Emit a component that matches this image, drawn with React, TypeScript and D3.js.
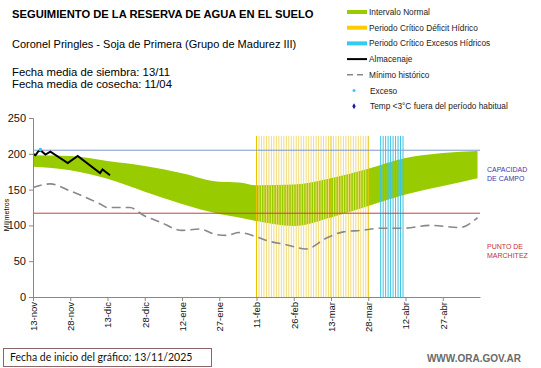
import React, { useEffect, useRef } from 'react';
import * as d3 from 'd3';

// days counted from the chart start date (13/11/2025)
const startDate = new Date(2025, 10, 13);
const totalDays = 180;

const tickDays = [0, 15, 30, 45, 60, 75, 90, 105, 120, 135, 150, 165];
const tickLabels = ['13-nov', '28-nov', '13-dic', '28-dic', '12-ene', '27-ene', '11-feb', '26-feb', '13-mar', '28-mar', '12-abr', '27-abr'];

const bandDays = [0, 15, 30, 45, 60, 75, 83, 90, 105, 120, 135, 150, 165, 179];
const bandUpper = [198, 197, 190, 183, 173, 161, 160, 156, 157, 166, 179, 194, 201, 204];
const bandLower = [182, 177, 165, 147, 130, 116, 111, 106, 99, 111, 127, 143, 155, 166];

const minDays = [0, 7, 15, 20, 27, 30, 39, 45, 51, 60, 67, 74, 78, 83, 90, 95, 102, 110, 118, 125, 132, 140, 149, 160, 172, 179];
const minValues = [153, 158, 148, 141, 130, 125, 125, 113, 105, 93, 95, 87, 86, 90, 84, 78, 73, 67, 82, 91, 93, 96, 96, 100, 97, 111];

const storageDays = [0, 1, 2, 3, 5, 7, 14, 18, 27, 28, 31];
const storageValues = [200, 198, 203, 205, 199, 203, 187, 197, 173, 178, 170];

const excesoDays = [3];
const excesoValues = [206];

const deficitPeriod = [90, 135];  // 11-feb .. 28-mar
const excessPeriod = [140, 149];  // 2-abr .. 11-abr
const periodTop = 225;

const capacidadCampo = 205;
const puntoMarchitez = 117;

const yTicks = [0, 50, 100, 150, 200, 250];

const legendItems = [
  { label: 'Intervalo Normal', kind: 'rect', color: '#99cc00' },
  { label: 'Periodo Crítico Déficit Hídrico', kind: 'rect', color: '#ffcc00' },
  { label: 'Periodo Crítico Excesos Hídricos', kind: 'rect', color: '#33ccee' },
  { label: 'Almacenaje', kind: 'line', color: '#000' },
  { label: 'Mínimo histórico', kind: 'dash', color: '#888' },
  { label: 'Exceso', kind: 'dot', color: '#33ccee' },
  { label: 'Temp <3°C fuera del período habitual', kind: 'diamond', color: '#1a1aa0' },
];

const App: React.FC = () => {
  const ref = useRef<SVGSVGElement>(null);

  useEffect(() => {
    const width = 541, height = 368;
    const svg = d3.select(ref.current)
      .attr('width', width)
      .attr('height', height)
      .style('font-family', 'Arial, "Liberation Sans", sans-serif');
    svg.selectAll('*').remove();

    const day = (n: number) => d3.timeDay.offset(startDate, n);

    const x = d3.scaleTime()
      .domain([startDate, day(totalDays)])
      .range([33, 480]);
    const y = d3.scaleLinear()
      .domain([0, 250])
      .range([297, 118]);

    // header texts
    svg.append('text').attr('x', 12).attr('y', 18)
      .style('font-size', '11.2px').style('font-weight', 'bold')
      .text('SEGUIMIENTO DE LA RESERVA DE AGUA  EN EL SUELO');
    svg.append('text').attr('x', 12).attr('y', 48)
      .style('font-size', '11px')
      .text('Coronel Pringles - Soja de Primera (Grupo de Madurez III)');
    svg.append('text').attr('x', 12).attr('y', 76)
      .style('font-size', '11.3px')
      .text('Fecha media de siembra: 13/11');
    svg.append('text').attr('x', 12).attr('y', 87.5)
      .style('font-size', '11.3px')
      .text('Fecha media de cosecha: 11/04');

    // legend
    const legend = svg.append('g');
    legendItems.forEach((d, i) => {
      const ly = 12 + i * 15.7;
      if (d.kind === 'rect') {
        legend.append('rect').attr('x', 347).attr('y', ly - 2).attr('width', 20).attr('height', 4).attr('fill', d.color);
      } else if (d.kind === 'line') {
        legend.append('line').attr('x1', 347).attr('x2', 367).attr('y1', ly).attr('y2', ly)
          .attr('stroke', d.color).attr('stroke-width', 2);
      } else if (d.kind === 'dash') {
        legend.append('line').attr('x1', 347).attr('x2', 367).attr('y1', ly).attr('y2', ly)
          .attr('stroke', d.color).attr('stroke-width', 1.5).attr('stroke-dasharray', '6,4');
      } else if (d.kind === 'dot') {
        legend.append('circle').attr('cx', 354).attr('cy', ly).attr('r', 1.5).attr('fill', d.color);
      } else {
        legend.append('path').attr('d', d3.symbol(d3.symbolDiamond, 10)())
          .attr('transform', `translate(354,${ly})`).attr('fill', d.color);
      }
      legend.append('text').attr('x', d.kind === 'dot' || d.kind === 'diamond' ? 370 : 369).attr('y', ly + 3)
        .style('font-size', '8.3px').attr('fill', '#222')
        .text(d.label);
    });

    const plot = svg.append('g');

    // normal interval band
    const area = d3.area<number>()
      .x((d) => x(day(d)))
      .y0((_, i) => y(bandLower[i]))
      .y1((_, i) => y(bandUpper[i]))
      .curve(d3.curveMonotoneX);
    plot.append('path').datum(bandDays).attr('d', area).attr('fill', '#99cc00');

    // critical periods, one line per day
    d3.range(deficitPeriod[0], deficitPeriod[1] + 1).forEach((d) => {
      const strong = d === deficitPeriod[0] || d === deficitPeriod[1] || d === 120;
      plot.append('line')
        .attr('x1', x(day(d))).attr('x2', x(day(d)))
        .attr('y1', y(0)).attr('y2', y(periodTop))
        .attr('stroke', strong ? '#e8c400' : '#f3dc78')
        .attr('stroke-width', 1);
    });
    d3.range(excessPeriod[0], excessPeriod[1] + 1).forEach((d) => {
      plot.append('line')
        .attr('x1', x(day(d))).attr('x2', x(day(d)))
        .attr('y1', y(0)).attr('y2', y(periodTop))
        .attr('stroke', '#3cc4e4')
        .attr('stroke-width', 1);
    });

    // reference lines
    plot.append('line').attr('x1', x(day(0))).attr('x2', x(day(totalDays)))
      .attr('y1', y(capacidadCampo)).attr('y2', y(capacidadCampo))
      .attr('stroke', '#7f97c8').attr('stroke-width', 1);
    plot.append('line').attr('x1', x(day(0))).attr('x2', x(day(totalDays)))
      .attr('y1', y(puntoMarchitez)).attr('y2', y(puntoMarchitez))
      .attr('stroke', '#c84040').attr('stroke-width', 1);

    // historical minimum
    const minLine = d3.line<number>()
      .x((d) => x(day(d)))
      .y((_, i) => y(minValues[i]))
      .curve(d3.curveMonotoneX);
    plot.append('path').datum(minDays).attr('d', minLine)
      .attr('fill', 'none').attr('stroke', '#888').attr('stroke-width', 1.6)
      .attr('stroke-dasharray', '9,5');

    // storage
    const storageLine = d3.line<number>()
      .x((d) => x(day(d)))
      .y((_, i) => y(storageValues[i]));
    plot.append('path').datum(storageDays).attr('d', storageLine)
      .attr('fill', 'none').attr('stroke', '#000').attr('stroke-width', 2);

    excesoDays.forEach((d, i) => {
      plot.append('circle').attr('cx', x(day(d))).attr('cy', y(excesoValues[i]))
        .attr('r', 1.8).attr('fill', '#33ccee');
    });

    // axes
    const yAxis = d3.axisLeft(y).tickValues(yTicks).tickSize(4).tickPadding(3);
    const gy = svg.append('g').attr('transform', `translate(${x(day(0))},0)`).call(yAxis);
    gy.select('.domain').attr('stroke', '#888');
    gy.selectAll('.tick line').attr('stroke', '#888');
    gy.selectAll('.tick text').style('font-size', '11px').style('font-family', 'Arial, "Liberation Sans", sans-serif').attr('fill', '#111');

    const xAxis = d3.axisBottom(x)
      .tickValues(tickDays.map(day))
      .tickFormat((_, i) => tickLabels[i])
      .tickSize(4).tickSizeOuter(0);
    const gx = svg.append('g').attr('transform', `translate(0,${y(0)})`).call(xAxis);
    gx.select('.domain').attr('stroke', '#888');
    gx.selectAll('.tick line').attr('stroke', '#888');
    gx.selectAll('.tick text')
      .style('font-size', '9.5px').style('font-family', 'Arial, "Liberation Sans", sans-serif').attr('fill', '#111')
      .attr('text-anchor', 'end')
      .attr('transform', 'rotate(-90)')
      .attr('x', -5).attr('y', 0).attr('dy', '0.35em');

    svg.append('text')
      .attr('transform', 'translate(9,215) rotate(-90)')
      .attr('text-anchor', 'middle')
      .style('font-size', '7px')
      .text('Milímetros');

    // side labels
    const blue = svg.append('text').style('font-size', '7px').attr('fill', '#3a3aa8');
    blue.append('tspan').attr('x', 487).attr('y', 172).text('CAPACIDAD');
    blue.append('tspan').attr('x', 487).attr('y', 181).text('DE  CAMPO');
    const red = svg.append('text').style('font-size', '7px').attr('fill', '#c83030');
    red.append('tspan').attr('x', 487).attr('y', 249).text('PUNTO   DE');
    red.append('tspan').attr('x', 487).attr('y', 258).text('MARCHITEZ');

    // footer
    svg.append('rect').attr('x', 3.5).attr('y', 348.5).attr('width', 208).attr('height', 18)
      .attr('fill', 'white').attr('stroke', '#8a6666').attr('stroke-width', 1);
    svg.append('text').attr('x', 10).attr('y', 361)
      .style('font-size', '10.5px').style('font-family', 'Lato, sans-serif').attr('fill', '#111')
      .text('Fecha de inicio del gráfico:   13/11/2025');
    svg.append('text').attr('x', 521).attr('y', 362).attr('text-anchor', 'end')
      .style('font-size', '10px').style('font-weight', 'bold').attr('fill', '#6a6a6a')
      .text('WWW.ORA.GOV.AR');
  }, []);

  return (
    <svg ref={ref} style={{ position: 'absolute', left: 0, top: 0, background: 'white' }}></svg>
  );
};

export default App;
